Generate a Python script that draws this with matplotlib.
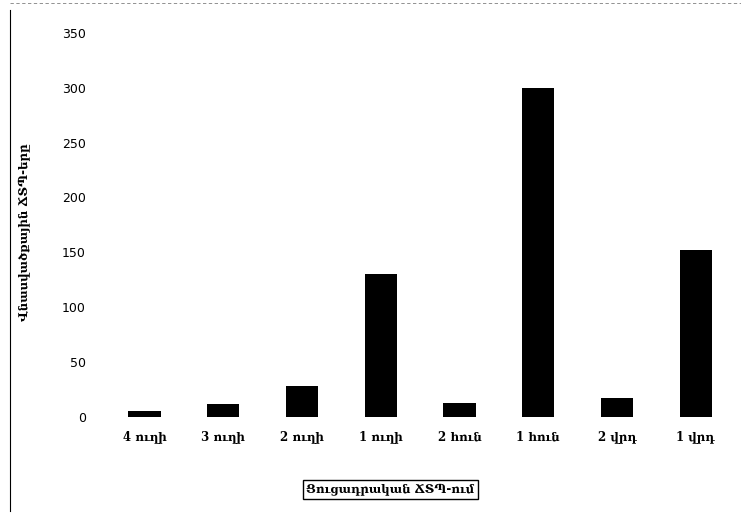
import matplotlib
matplotlib.use("Agg")
import matplotlib.pyplot as plt
from matplotlib.lines import Line2D

categories = ["4 ուղի", "3 ուղի", "2 ուղի", "1 ուղի", "2 հուն", "1 հուն", "2 վրդ", "1 վրդ"]
values = [5, 12, 28, 130, 13, 300, 17, 152]
yticks = [0, 50, 100, 150, 200, 250, 300, 350]
xlabel = "Ցուցադրական ՃՏՊ-ում"
ylabel = "Վնասվածքային ՃՏՊ-երը"

fig = plt.figure(figsize=(7.41, 5.21), dpi=100)
ax = fig.add_axes([0.142, 0.2, 0.85, 0.737])
x = list(range(len(categories)))
ax.bar(x, values, width=0.41, color="black")
ax.set_xlim(-0.5, len(categories) - 0.5)
ax.set_ylim(0, 350)
ax.set_yticks(yticks)
ax.set_yticklabels([str(v) for v in yticks], fontsize=9, family="DejaVu Sans")
ax.set_xticks(x)
ax.set_xticklabels(categories, fontsize=8.5, family="DejaVu Serif", fontweight="bold")
for s in ax.spines.values():
    s.set_visible(False)
ax.tick_params(axis="both", length=0, pad=14)
ax.tick_params(axis="x", pad=10)

fig.text(0.527, 0.06, xlabel, ha="center", va="center", fontsize=8.5,
         family="DejaVu Serif", fontweight="bold",
         bbox=dict(boxstyle="square,pad=0.25", fc="white", ec="black", lw=1))
fig.text(0.034, 0.555, ylabel, ha="center", va="center", rotation=90, fontsize=8.5,
         family="DejaVu Serif", fontweight="bold")

fig.add_artist(Line2D([0.013, 0.013], [0.02, 0.98], transform=fig.transFigure,
                      color="black", lw=0.8))
fig.add_artist(Line2D([0.013, 1.0], [0.995, 0.995], transform=fig.transFigure,
                      color="gray", lw=0.6, ls=(0, (4, 3))))

fig.savefig("out.png", dpi=100)
